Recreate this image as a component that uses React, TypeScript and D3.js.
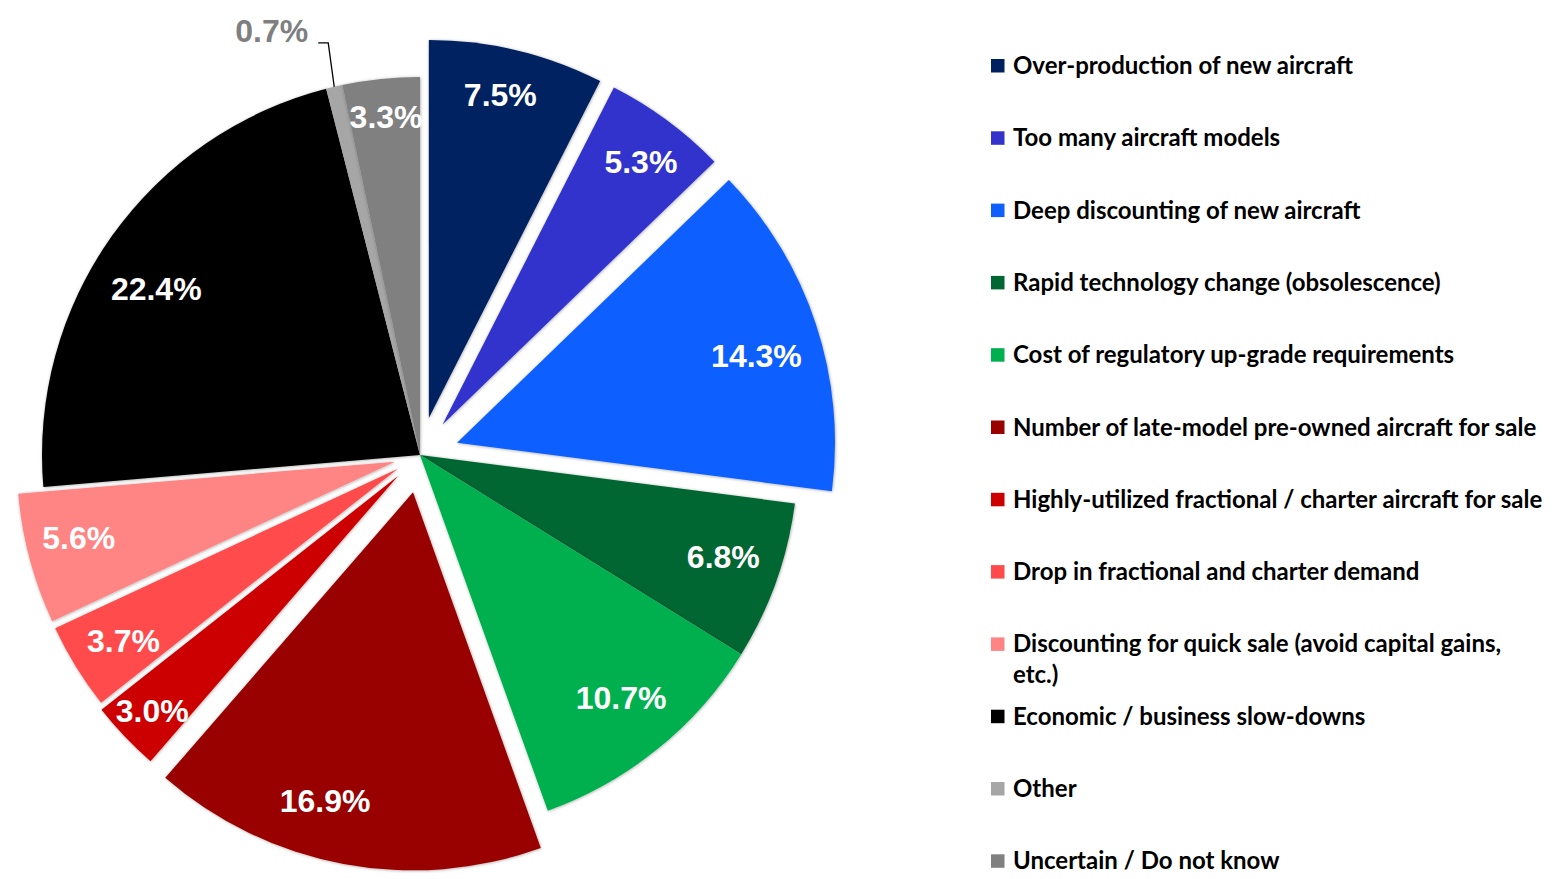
import React from "react";
import * as d3 from "d3";

const categories = [
  "Over-production of new aircraft",
  "Too many aircraft models",
  "Deep discounting of new aircraft",
  "Rapid technology change (obsolescence)",
  "Cost of regulatory up-grade requirements",
  "Number of late-model pre-owned aircraft for sale",
  "Highly-utilized fractional / charter aircraft for sale",
  "Drop in fractional and charter demand",
  "Discounting for quick sale (avoid capital gains, etc.)",
  "Economic / business slow-downs",
  "Other",
  "Uncertain / Do not know",
];

const values = [7.5, 5.3, 14.3, 6.8, 10.7, 16.9, 3.0, 3.7, 5.6, 22.4, 0.7, 3.3];

const colors = [
  "#002060",
  "#3333CC",
  "#0F5FFF",
  "#006633",
  "#00B050",
  "#990000",
  "#CC0000",
  "#FF4B4B",
  "#FF8585",
  "#000000",
  "#A6A6A6",
  "#808080",
];

// legend lines (wrapped as in the original)
const legendLines = [
  ["Over-production of new aircraft"],
  ["Too many aircraft models"],
  ["Deep discounting of new aircraft"],
  ["Rapid technology change (obsolescence)"],
  ["Cost of regulatory up-grade requirements"],
  ["Number of late-model pre-owned aircraft for sale"],
  ["Highly-utilized fractional / charter aircraft for sale"],
  ["Drop in fractional and charter demand"],
  ["Discounting for quick sale (avoid capital gains,", "etc.)"],
  ["Economic / business slow-downs"],
  ["Other"],
  ["Uncertain / Do not know"],
];

// styling: explode distance per slice, label radius and angular nudge (deg)
const explode = [38, 38, 39, 0, 0, 38, 30, 26, 26, 0, 0, 0];
const labelRadius = [331, 329, 312, 320, 315, 320, 340, 324, 325, 312, 0, 340];
const labelShift = [-1.0, 0.6, 2.0, -1.0, -0.7, 5.35, 0, -0.5, 1.5, -3.1, 0, 0.2];

const W = 1566;
const H = 879;
const CX = 420;
const CY = 455;
const R = 378;

export default function App() {
  const pie = d3
    .pie<number>()
    .sort(null)
    .value((d) => d)
    .startAngle(0)
    .endAngle(Math.PI * 2);
  const arcs = pie(values);
  const arcGen = d3.arc<d3.PieArcDatum<number>>().innerRadius(0).outerRadius(R);

  const fmt = (v: number) => v.toFixed(1) + "%";

  // 0.7% outer point
  const other = arcs[10];
  const om = (other.startAngle + other.endAngle) / 2;
  const P = [CX + R * Math.sin(om), CY - R * Math.cos(om)];

  return (
    <svg
      width={W}
      height={H}
      style={{ position: "absolute", left: 0, top: 0, background: "#fff" }}
    >
      <defs>
        <filter id="sh" x="-10%" y="-10%" width="120%" height="120%">
          <feDropShadow dx="0.5" dy="0.5" stdDeviation="1.8" floodColor="#000" floodOpacity="0.35" />
        </filter>
      </defs>
      <g>
        {arcs.map((a, i) => {
          const mid = (a.startAngle + a.endAngle) / 2;
          const dx = explode[i] * Math.sin(mid);
          const dy = -explode[i] * Math.cos(mid);
          return (
            <path
              key={i}
              d={arcGen(a) || ""}
              transform={`translate(${CX + dx},${CY + dy})`}
              fill={colors[i]}
              filter="url(#sh)"
            />
          );
        })}
      </g>
      <g
        fontFamily="'Liberation Sans', Arial, sans-serif"
        fontWeight="bold"
        fontSize={32}
        fill="#fff"
        textAnchor="middle"
      >
        {arcs.map((a, i) => {
          if (i === 10) return null;
          const mid = (a.startAngle + a.endAngle) / 2;
          const dx = explode[i] * Math.sin(mid);
          const dy = -explode[i] * Math.cos(mid);
          const la = mid + (labelShift[i] * Math.PI) / 180;
          const lr = labelRadius[i];
          const x = CX + dx + lr * Math.sin(la);
          const y = CY + dy - lr * Math.cos(la);
          return (
            <text key={i} x={x} y={y + 11.5}>
              {fmt(values[i])}
            </text>
          );
        })}
      </g>
      <polyline
        points={`${P[0] - 16},${P[1] - 44} ${P[0] - 6},${P[1] - 44} ${P[0]},${P[1]}`}
        fill="none"
        stroke="#000"
        strokeWidth={1.3}
      />
      <text
        x={P[0] - 26}
        y={P[1] - 45}
        textAnchor="end"
        fontFamily="'Liberation Sans', Arial, sans-serif"
        fontWeight="bold"
        fontSize={32}
        fill="#7F7F7F"
      >
        {fmt(values[10])}
      </text>
      <g fontFamily="Lato, sans-serif" fontWeight="bold" fontSize={24} fill="#000">
        {categories.map((c, i) => {
          const base = 74 + i * 72.3;
          return (
            <g key={c}>
              <rect x={991} y={base - 15} width={13.5} height={13.5} fill={colors[i]} />
              {legendLines[i].map((ln, j) => (
                <text key={j} x={1013} y={base + j * 31}>
                  {ln}
                </text>
              ))}
            </g>
          );
        })}
      </g>
    </svg>
  );
}
